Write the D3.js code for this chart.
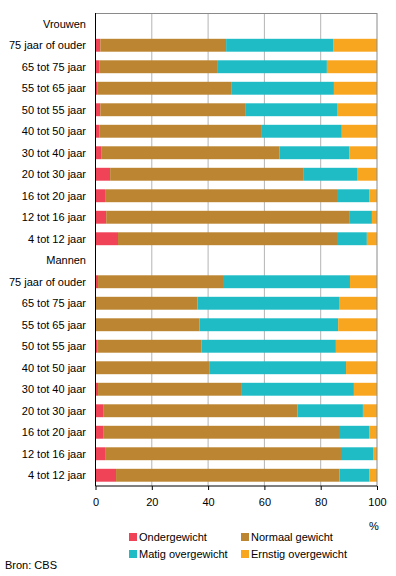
<!DOCTYPE html>
<html>
<head>
<meta charset="utf-8">
<script src="https://cdn.jsdelivr.net/npm/d3@7"></script>
<style>
  body { margin: 0; background: #fff; }
  svg text { font-family: "Liberation Sans", Arial, sans-serif; font-size: 11px; fill: #000; }
  .grid line { stroke: #b4b4b4; }
</style>
</head>
<body>
<svg id="chart" width="396" height="576"></svg>
<script>
// rows top to bottom; group headers have no values
var rows = ["Vrouwen", "75 jaar of ouder", "65 tot 75 jaar", "55 tot 65 jaar", "50 tot 55 jaar",
  "40 tot 50 jaar", "30 tot 40 jaar", "20 tot 30 jaar", "16 tot 20 jaar", "12 tot 16 jaar", "4 tot 12 jaar",
  "Mannen", "75 jaar of ouder", "65 tot 75 jaar", "55 tot 65 jaar", "50 tot 55 jaar",
  "40 tot 50 jaar", "30 tot 40 jaar", "20 tot 30 jaar", "16 tot 20 jaar", "12 tot 16 jaar", "4 tot 12 jaar"];

var series = ["Ondergewicht", "Normaal gewicht", "Matig overgewicht", "Ernstig overgewicht"];
var colors = ["#f04358", "#bc8531", "#1fbcc6", "#f8a51f"];

var ondergewicht = [null, 1.7, 1.3, 0.6, 1.7, 1.3, 2.0, 5.2, 3.4, 3.8, 8.0,
                    null, 0.9, 0.0, 0.0, 0.6, 0.0, 0.9, 2.7, 2.7, 3.4, 7.3];
var normaal      = [null, 44.7, 41.9, 47.6, 51.7, 57.8, 63.4, 68.8, 82.4, 86.3, 77.8,
                    null, 44.4, 36.2, 36.9, 37.0, 40.6, 51.1, 69.1, 83.8, 83.8, 79.4];
var matig        = [null, 38.0, 39.0, 36.5, 32.4, 28.4, 24.7, 18.9, 11.4, 8.1, 10.6,
                    null, 45.1, 50.3, 49.3, 47.8, 48.4, 39.8, 23.2, 10.7, 11.4, 10.5];
var ernstig      = [null, 15.6, 17.8, 15.3, 14.2, 12.5, 9.9, 7.1, 2.8, 1.8, 3.6,
                    null, 9.6, 13.5, 13.8, 14.6, 11.0, 8.2, 5.0, 2.8, 1.4, 2.8];

var xTicks = [0, 20, 40, 60, 80, 100];

var svg = d3.select("#chart");
var plotLeft = 95.5, plotRight = 377, plotTop = 13, plotBottom = 486;

var x = d3.scaleLinear().domain([0, 100]).range([plotLeft, plotRight]);
var y = d3.scaleBand().domain(d3.range(rows.length)).range([plotTop, plotBottom]).paddingInner(0.4).paddingOuter(0.2);

// gridlines
svg.append("g").attr("class", "grid")
  .selectAll("line").data(xTicks.slice(1, -1)).enter().append("line")
    .attr("x1", function(d) { return x(d); }).attr("x2", function(d) { return x(d); })
    .attr("y1", plotTop).attr("y2", plotBottom);

// stacked bars
var table = rows.map(function(r, i) {
  return { i: i, a: ondergewicht[i], b: normaal[i], c: matig[i], d: ernstig[i] };
}).filter(function(d) { return d.a !== null; });

var stack = d3.stack().keys(["a", "b", "c", "d"])(table);

svg.append("g").selectAll("g").data(stack).enter().append("g")
    .attr("fill", function(d, k) { return colors[k]; })
  .selectAll("rect").data(function(d) { return d; }).enter().append("rect")
    .attr("x", function(d) { return x(d[0]); })
    .attr("width", function(d) { return Math.max(0, x(d[1]) - x(d[0])); })
    .attr("y", function(d) { return y(d.data.i); })
    .attr("height", y.bandwidth());

// frame
svg.append("line").attr("x1", plotLeft).attr("x2", plotRight).attr("y1", plotTop + 0.5).attr("y2", plotTop + 0.5)
  .attr("stroke", "#8a8a8a");
svg.append("line").attr("x1", plotRight).attr("x2", plotRight).attr("y1", plotTop).attr("y2", plotBottom)
  .attr("stroke", "#8a8a8a");
svg.append("line").attr("x1", plotLeft).attr("x2", plotLeft).attr("y1", plotTop).attr("y2", plotBottom)
  .attr("stroke", "#000");

// bottom axis
var xAxis = svg.append("g").attr("transform", "translate(0," + plotBottom + ")")
  .call(d3.axisBottom(x).tickValues(xTicks).tickSize(4).tickPadding(8));
xAxis.select(".domain").remove();
xAxis.append("line").attr("x1", plotLeft).attr("x2", plotRight).attr("stroke", "#000");
xAxis.selectAll(".tick line").attr("stroke", "#000");
xAxis.selectAll("text").style("font-size", "11px").attr("font-family", null);

svg.append("text").attr("x", plotRight - 3).attr("y", 530).attr("text-anchor", "middle").text("%");

// row labels
svg.append("g").selectAll("text").data(rows).enter().append("text")
  .attr("x", 86).attr("y", function(d, i) { return y(i) + y.bandwidth() / 2; })
  .attr("dy", "0.35em").attr("text-anchor", "end").text(function(d) { return d; });

// legend
var legendPos = [[129, 537], [241, 537], [129, 554], [241, 554]];
var legend = svg.append("g").selectAll("g").data(series).enter().append("g")
  .attr("transform", function(d, k) { return "translate(" + legendPos[k][0] + "," + legendPos[k][1] + ")"; });
legend.append("rect").attr("x", 0).attr("y", -4).attr("width", 8).attr("height", 8)
  .attr("fill", function(d, k) { return colors[k]; });
legend.append("text").attr("x", 10).attr("dy", "0.35em").text(function(d) { return d; });

svg.append("text").attr("x", 5).attr("y", 565).attr("dy", "0.35em").text("Bron: CBS");
</script>
</body>
</html>
